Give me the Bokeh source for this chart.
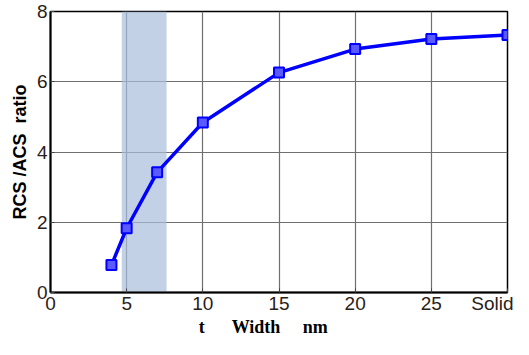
from bokeh.plotting import figure
from bokeh.models import BoxAnnotation, FixedTicker, Range1d
from bokeh.embed import file_html
from bokeh.resources import INLINE

# data
width_nm = [4, 5, 7, 10, 15, 20, 25, 30]
ratio = [0.78, 1.83, 3.42, 4.84, 6.26, 6.93, 7.22, 7.33]
band = [4.68, 7.62]
x_ticks = [0, 5, 10, 15, 20, 25, 30]
x_tick_labels = ["0", "5", "10", "15", "20", "25", "Solid"]
y_ticks = [0, 2, 4, 6, 8]

NB = "\u00a0"

p = figure(width=513, height=339, output_backend="svg", toolbar_location=None,
           x_range=Range1d(0, 30), y_range=Range1d(0, 8),
           min_border_left=50, min_border_right=6, min_border_top=11, min_border_bottom=30)
p.outline_line_color = "black"
p.outline_line_width = 1.5

p.add_layout(BoxAnnotation(left=band[0], right=band[1], fill_color="#a9bedc",
                           fill_alpha=0.7, line_alpha=0, level="underlay"))

p.line(width_nm, ratio, line_color="#0000ff", line_width=3.5)
p.scatter(width_nm, ratio, marker="square", size=10, line_color="#0000ff",
          line_width=2, fill_color="#5a5aff")

for ax in (p.xaxis[0], p.yaxis[0]):
    ax.axis_line_color = "black"
    ax.axis_line_width = 2
    ax.major_tick_in = 4
    ax.major_tick_out = 0
    ax.minor_tick_line_color = None
    ax.major_label_text_font = "Liberation Sans"
    ax.major_label_text_font_size = "19px"
    ax.major_label_text_color = "#2a2118"
    ax.major_tick_line_color = "#444444"

p.xaxis.ticker = FixedTicker(ticks=x_ticks)
p.xaxis.major_label_overrides = {t: l for t, l in zip(x_ticks, x_tick_labels)}
p.xaxis.major_label_standoff = 0
p.yaxis.ticker = FixedTicker(ticks=y_ticks)
p.yaxis.major_label_standoff = 3

p.xaxis.axis_label = "t" + NB * 6 + "Width" + NB * 5 + "nm" + NB * 7
p.xaxis.axis_label_text_font = "Liberation Serif"
p.xaxis.axis_label_text_font_style = "bold"
p.xaxis.axis_label_text_font_size = "18px"
p.xaxis.axis_label_text_color = "black"
p.xaxis.axis_label_standoff = 0

p.yaxis.axis_label = "RCS /ACS" + NB * 2 + "ratio"
p.yaxis.axis_label_text_font = "Liberation Sans"
p.yaxis.axis_label_text_font_style = "bold"
p.yaxis.axis_label_text_font_size = "18px"
p.yaxis.axis_label_text_color = "black"
p.yaxis.axis_label_standoff = 4

p.xgrid.grid_line_color = "#6f6f6f"
p.ygrid.grid_line_color = "#6f6f6f"
p.xgrid.grid_line_width = 1.2
p.ygrid.grid_line_width = 1.2

open("out.html", "w").write(file_html(p, INLINE))
